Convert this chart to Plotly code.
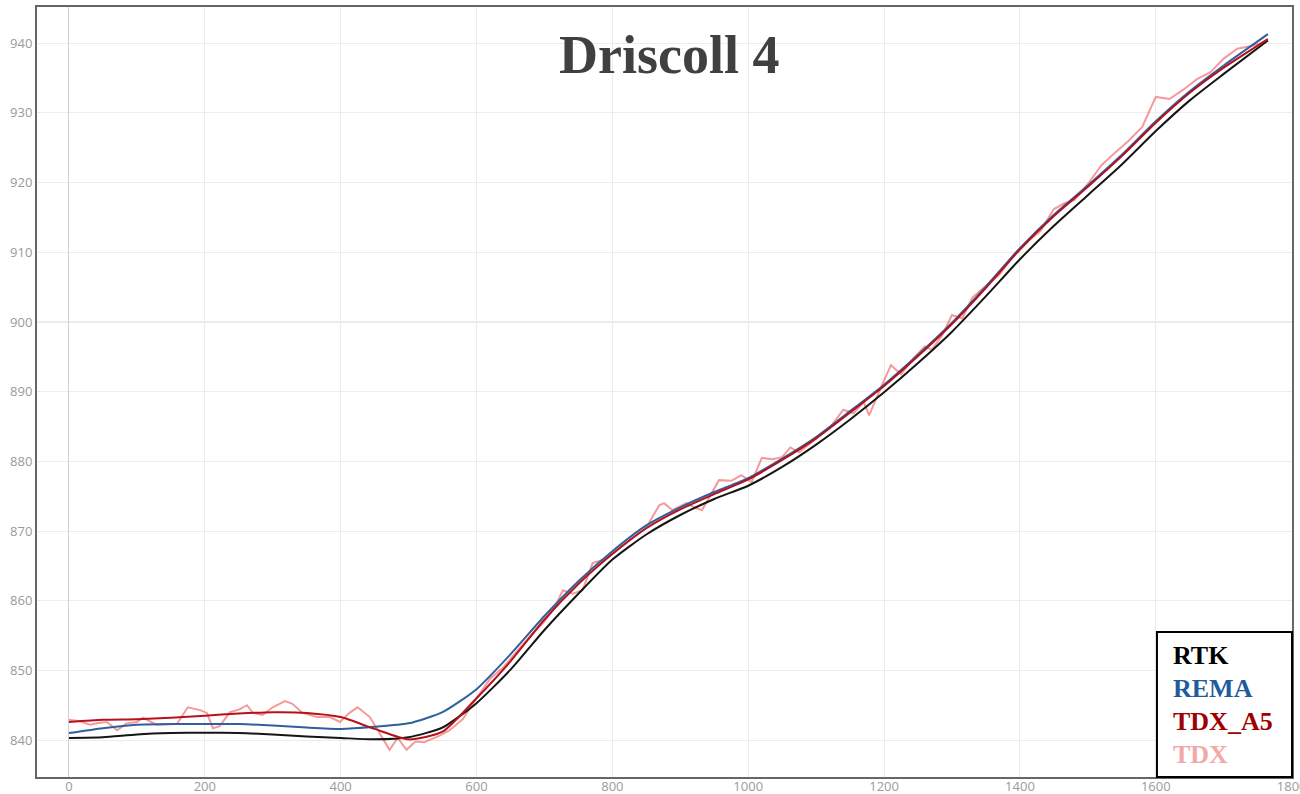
import plotly.graph_objects as go

# Along-track sample positions shared by the smooth profiles
x_smooth = [0, 50, 100, 150, 200, 250, 300, 350, 400, 450, 500, 550, 600, 650,
            700, 750, 800, 850, 900, 950, 1000, 1050, 1100, 1150, 1200, 1250,
            1300, 1350, 1400, 1450, 1500, 1550, 1600, 1650, 1700, 1765]

rtk = [840.3, 840.4, 840.8, 841.0, 841.05, 841.0, 840.8, 840.5, 840.3, 840.1,
       840.4, 841.8, 845.3, 850.1, 855.8, 861.0, 865.9, 869.5, 872.3, 874.6,
       876.5, 879.2, 882.4, 886.0, 889.9, 894.1, 898.6, 903.7, 909.0, 913.8,
       918.2, 922.6, 927.4, 931.8, 935.6, 940.4]

rema = [841.0, 841.7, 842.2, 842.3, 842.3, 842.3, 842.1, 841.8, 841.6, 841.9,
        842.4, 844.0, 847.3, 852.3, 857.8, 862.8, 867.1, 870.8, 873.4, 875.6,
        877.6, 880.4, 883.5, 887.2, 891.0, 895.3, 899.9, 905.1, 910.6, 915.4,
        919.6, 924.0, 928.8, 933.1, 936.8, 941.3]

tdx_a5 = [842.6, 842.9, 843.0, 843.2, 843.5, 843.8, 844.0, 843.9, 843.3, 841.6,
          840.1, 841.2, 846.0, 851.3, 857.3, 862.4, 866.7, 870.4, 873.1, 875.3,
          877.4, 880.2, 883.3, 887.0, 890.8, 895.1, 899.7, 904.9, 910.4, 915.2,
          919.4, 923.8, 928.6, 932.9, 936.5, 940.6]

# Raw TDX heights (irregular spacing)
tdx_x = [0, 16, 31, 45, 56, 71, 85, 100, 109, 118, 129, 159, 175, 193, 203, 212,
         222, 237, 251, 262, 271, 285, 300, 318, 329, 344, 365, 384, 399, 413,
         425, 443, 457, 472, 484, 497, 510, 523, 545, 560, 580, 600, 620, 640,
         660, 680, 700, 715, 727, 742, 756, 771, 790, 810, 830, 850, 869, 876,
         888, 909, 923, 932, 957, 975, 990, 1005, 1020, 1035, 1050, 1062, 1075,
         1100, 1120, 1140, 1155, 1170, 1178, 1195, 1210, 1225, 1245, 1260, 1270,
         1285, 1300, 1315, 1330, 1350, 1370, 1390, 1410, 1430, 1450, 1465, 1480,
         1500, 1520, 1540, 1560, 1580, 1600, 1620, 1640, 1660, 1680, 1700, 1720,
         1740, 1755, 1765]
tdx_y = [842.9, 842.7, 842.2, 842.5, 842.6, 841.4, 842.4, 842.6, 843.2, 842.8,
         842.2, 842.3, 844.7, 844.3, 843.9, 841.7, 842.0, 844.0, 844.4, 845.0,
         843.9, 843.6, 844.7, 845.6, 845.2, 843.9, 843.3, 843.3, 842.6, 843.9,
         844.7, 843.3, 841.0, 838.6, 840.3, 838.6, 839.8, 839.7, 840.6, 841.4,
         843.0, 846.0, 848.8, 850.5, 852.8, 855.0, 857.0, 859.0, 861.5, 861.0,
         861.5, 865.4, 866.0, 867.5, 869.0, 870.5, 873.7, 874.0, 873.0, 874.0,
         873.3, 873.0, 877.3, 877.2, 878.0, 877.0, 880.5, 880.3, 880.6, 882.0,
         881.3, 883.2, 884.8, 887.4, 886.9, 888.5, 886.6, 890.5, 893.8, 892.5,
         895.0, 896.5, 896.0, 898.0, 901.0, 900.5, 903.5, 905.2, 906.8, 909.5,
         911.5, 913.0, 916.2, 917.0, 917.5, 919.8, 922.5, 924.3, 926.0, 928.0,
         932.3, 932.0, 933.3, 934.8, 935.8, 937.8, 939.2, 939.6, 940.0, 940.5]

legend_names = ["RTK", "REMA", "TDX_A5", "TDX"]
legend_colors = ["#000000", "#1f5b9e", "#a00000", "#f2a8a8"]

fig = go.Figure()
fig.add_trace(go.Scatter(x=tdx_x, y=tdx_y, mode="lines", name="TDX",
                         line=dict(color="rgba(240,120,120,0.75)", width=2)))
fig.add_trace(go.Scatter(x=x_smooth, y=rtk, mode="lines", name="RTK",
                         line=dict(color="#151515", width=2, shape="spline", smoothing=0.6)))
fig.add_trace(go.Scatter(x=x_smooth, y=rema, mode="lines", name="REMA",
                         line=dict(color="#2f5f9c", width=2, shape="spline", smoothing=0.6)))
fig.add_trace(go.Scatter(x=x_smooth, y=tdx_a5, mode="lines", name="TDX_A5",
                         line=dict(color="#b5121b", width=2, shape="spline", smoothing=0.6)))

# Slightly stronger reference line at 900 m
fig.add_shape(type="line", xref="paper", yref="y", x0=0, x1=1, y0=900, y1=900,
              line=dict(color="#d4d4d4", width=1), layer="below")

# Hand-built legend box with coloured labels
fig.add_shape(type="rect", xref="paper", yref="paper",
              x0=0.8924, x1=1.0, y0=0.0, y1=0.1883,
              line=dict(color="#000000", width=2), fillcolor="white", layer="above")
for i, (name, col) in enumerate(zip(legend_names, legend_colors)):
    fig.add_annotation(xref="paper", yref="paper", x=0.9035, y=0.158 - i * 0.0428,
                       xanchor="left", yanchor="middle", showarrow=False, text=f"<b>{name}</b>",
                       font=dict(family="Liberation Serif", size=26, color=col))

fig.add_annotation(xref="paper", yref="paper", x=0.5035, y=0.9377, xanchor="center",
                   yanchor="middle", showarrow=False, text="<b>Driscoll 4</b>",
                   font=dict(family="Liberation Serif", size=54, color="#404040"))

fig.update_layout(
    width=1300, height=794,
    margin=dict(l=37, r=8, t=7, b=17),
    paper_bgcolor="white", plot_bgcolor="white",
    showlegend=False,
    xaxis=dict(range=[-47, 1800.5], tickvals=list(range(0, 1801, 200)), automargin=False,
               showgrid=True, gridcolor="#ececec", gridwidth=1,
               zeroline=True, zerolinecolor="#d0d0d0", zerolinewidth=1,
               showline=True, mirror=True, linecolor="#666666", linewidth=2,
               ticks="", ticklabelstandoff=-4, ticklabeloverflow="allow",
               tickfont=dict(family="Open Sans", size=13, color="#9a9a9a")),
    yaxis=dict(range=[834.7, 945.2], tickvals=list(range(840, 941, 10)), automargin=False,
               showgrid=True, gridcolor="#ececec", gridwidth=1, zeroline=False,
               showline=True, mirror=True, linecolor="#666666", linewidth=2,
               ticks="", tickfont=dict(family="Open Sans", size=13, color="#9a9a9a")),
)

fig.write_html("out.html")
